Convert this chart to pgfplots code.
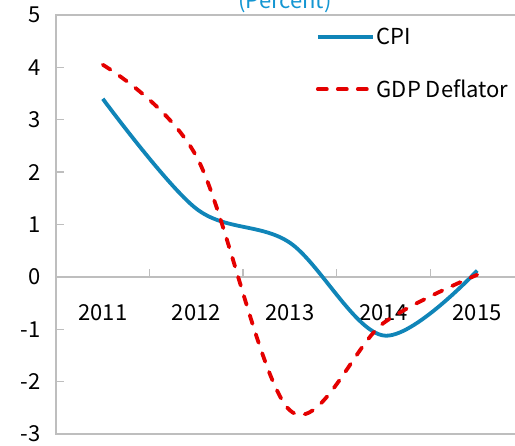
\documentclass[border=0pt]{standalone}
\usepackage{pgfplots}
\pgfplotsset{compat=1.18}
\usepackage{fontspec}
\setmainfont{Noto Sans CJK KR}
\definecolor{cpiblue}{RGB}{16,133,184}
\definecolor{gdpred}{RGB}{228,0,0}
\definecolor{titleblue}{RGB}{20,150,210}
\definecolor{axgray}{RGB}{190,190,190}
\begin{document}
\begin{tikzpicture}[x=1pt,y=1pt]
\useasboundingbox (0,0) rectangle (515,446);
\node[overlay,anchor=base,text=titleblue,font=\fontsize{22}{26}\selectfont] at (285,437) {(Percent)};
\begin{axis}[
  at={(56pt,12pt)}, anchor=south west,
  scale only axis, width=468pt, height=419pt,
  xmin=0.5, xmax=5.5, ymin=-3, ymax=5,
  axis x line*=middle, axis y line*=left,
  axis line style={draw=axgray, line width=1.4pt, -},
  tick style={draw=axgray, line width=1.4pt},
  tick align=inside, major tick length=8pt,
  ytick={-3,-2,...,5},
  yticklabel style={xshift=-12pt},
  xtick={1.5,2.5,3.5,4.5}, xticklabels={},
  extra x ticks={1,2,3,4,5},
  extra x tick labels={2011,2012,2013,2014,2015},
  extra x tick style={major tick length=0pt, xticklabel style={yshift=-24pt}},
  ticklabel style={font=\fontsize{22}{26}\selectfont},
  /pgf/number format/assume math mode=true,
  clip=false,
  legend style={draw=none, fill=none, at={(rel axis cs:0.555,0.975)}, anchor=north west,
    font=\fontsize{22}{26}\selectfont, row sep=30pt, inner sep=0pt},
  legend cell align=left,
  legend image code/.code={\draw[#1] (0pt,0pt) -- (55pt,0pt);},
]
\draw[axgray, line width=1.4pt] (rel axis cs:0,0) rectangle (rel axis cs:1,1);
\addplot[cpiblue, line width=3.8pt, smooth, tension=0.55] coordinates {
  (1,3.40) (2,1.30) (3,0.65) (4,-1.12) (5,0.12)};
\addlegendentry{CPI}
\addplot[gdpred, line width=3.8pt, line cap=round, dash pattern=on 9pt off 11pt, smooth, tension=0.55] coordinates {
  (1,4.05) (2,2.30) (3,-2.55) (4,-0.88) (5,0.04)};
\addlegendentry{GDP Deflator}
\end{axis}
\end{tikzpicture}
\end{document}
